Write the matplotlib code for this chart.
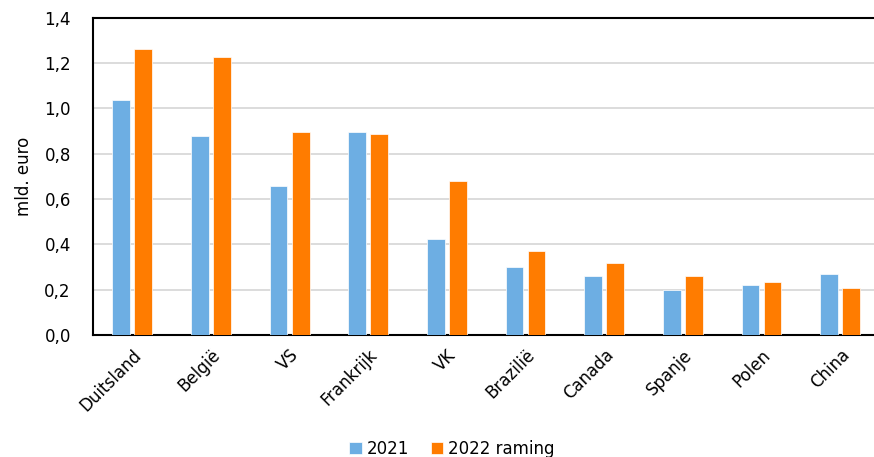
import numpy as np
import matplotlib.pyplot as plt
from matplotlib.ticker import FuncFormatter

landen = ['Duitsland', 'België', 'VS', 'Frankrijk', 'VK', 'Brazilië',
          'Canada', 'Spanje', 'Polen', 'China']
waarden_2021 = [1.038, 0.879, 0.658, 0.898, 0.424, 0.300, 0.261, 0.199, 0.222, 0.269]
waarden_2022 = [1.263, 1.228, 0.895, 0.886, 0.680, 0.371, 0.318, 0.261, 0.235, 0.208]

blauw = '#6DAEE3'
oranje = '#FF7C00'

fig = plt.figure(figsize=(8.74, 4.57), dpi=100)
ax = fig.add_axes([0.1064, 0.267, 0.90, 0.694])

x = np.arange(len(landen))
b = 0.225
ax.bar(x - 0.14, waarden_2021, b, color=blauw, edgecolor='white', linewidth=0.5,
       label='2021', zorder=3)
ax.bar(x + 0.14, waarden_2022, b, color=oranje, edgecolor='white', linewidth=0.5,
       label='2022 raming', zorder=3)

ax.set_xlim(-0.5, len(landen) - 0.5)
ax.set_ylim(0, 1.4)
ax.set_yticks(np.arange(0, 1.41, 0.2))
ax.yaxis.set_major_formatter(FuncFormatter(lambda v, p: f'{v:.1f}'.replace('.', ',')))
ax.grid(axis='y', color='#D9D9D9', linewidth=1.3, zorder=0)
ax.set_axisbelow(True)

ax.set_xticks(x)
ax.set_xticklabels(landen, rotation=45, ha='right', rotation_mode='anchor')
ax.tick_params(axis='both', length=0, labelsize=12, colors='black')
ax.tick_params(axis='x', pad=8)
ax.tick_params(axis='y', pad=16)

ax.spines['right'].set_visible(False)
for s in ['left', 'bottom', 'top']:
    ax.spines[s].set_linewidth(1.5)
    ax.spines[s].set_color('black')

ax.set_ylabel('mld. euro', fontsize=12, labelpad=8)

fig.legend(loc='lower center', bbox_to_anchor=(0.517, -0.035), ncol=2, frameon=False,
           fontsize=12, handlelength=0.75, handleheight=0.75, handletextpad=0.3,
           columnspacing=1.3)

plt.savefig('out.png', dpi=100)
